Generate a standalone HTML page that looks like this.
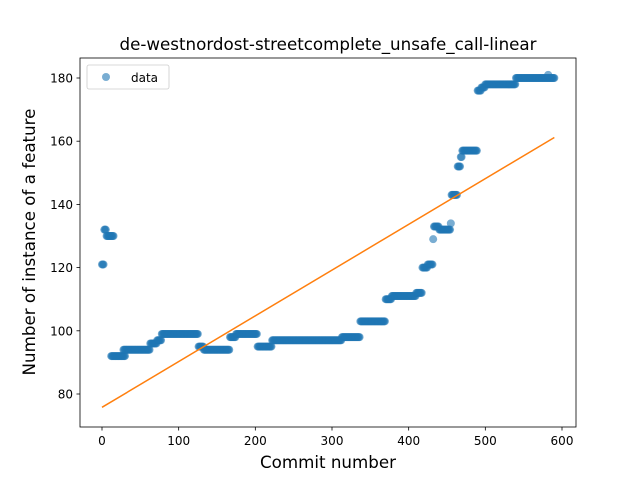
<!DOCTYPE html>
<html><head><meta charset="utf-8"><style>
body{margin:0;background:#fff;}
svg text{font-family:"DejaVu Sans","Liberation Sans",sans-serif;fill:#000;}
</style></head><body>
<svg id="chart" width="640" height="480" xmlns="http://www.w3.org/2000/svg">
<rect width="640" height="480" fill="#fff"/>
<g id="points"></g>
<g id="fit"></g>
<rect x="80" y="58" width="496" height="369" fill="none" stroke="#000" stroke-width="0.8"/>
<g id="xticks"></g>
<g id="yticks"></g>
<text x="328" y="50" text-anchor="middle" font-size="16.7">de-westnordost-streetcomplete_unsafe_call-linear</text>
<text x="328" y="468" text-anchor="middle" font-size="16.7">Commit number</text>
<text transform="translate(35,242) rotate(-90)" text-anchor="middle" font-size="16.7">Number of instance of a feature</text>
<g>
<rect x="87" y="65" width="82" height="24" rx="2" fill="#fff" stroke="#ccc" stroke-width="0.8"/>
<circle cx="106" cy="77" r="4" fill="#1f77b4" fill-opacity="0.6"/>
<text x="131" y="82" font-size="12">data</text>
</g>
</svg>
<script>
const runStarts = [0,3,6,12,28,63,72,78,126,133,167,175,203,222,313,337,370,378,410,418,425,432,433,440,455,456,464,468,470,490,495,500,540,582];
const runEnds   = [2,5,15,30,62,71,77,125,132,166,174,202,221,312,336,369,377,409,417,424,431,432,439,454,455,463,467,469,489,494,499,539,590,582];
const runValues = [121,132,130,92,94,96,97,99,95,94,98,99,95,97,98,103,110,111,112,120,121,129,133,132,134,143,152,155,157,176,177,178,180,181];
const xTickValues = [0,100,200,300,400,500,600];
const yTickValues = [80,100,120,140,160,180];

const xs = v => 102 + v*(460/600);
const ys = v => 394 - (v-80)*3.16;
const NS = "http://www.w3.org/2000/svg";
const pts = document.getElementById('points');
const px=[],py=[];
for(let i=0;i<runStarts.length;i++){
  for(let c=runStarts[i];c<=runEnds[i];c++){
    px.push(c);py.push(runValues[i]);
    const el=document.createElementNS(NS,'circle');
    el.setAttribute('cx',xs(c));el.setAttribute('cy',ys(runValues[i]));
    el.setAttribute('r',4);el.setAttribute('fill','#1f77b4');el.setAttribute('fill-opacity','0.6');
    
    
    pts.appendChild(el);
  }
}
const n=px.length;let mx=0,my=0;
for(let i=0;i<n;i++){mx+=px[i];my+=py[i];}mx/=n;my/=n;
let sxy=0,sxx=0;for(let i=0;i<n;i++){sxy+=(px[i]-mx)*(py[i]-my);sxx+=(px[i]-mx)**2;}
const slope=sxy/sxx, icpt=my-slope*mx;
const x0=Math.min(...px),x1=Math.max(...px);
const ln=document.createElementNS(NS,'line');
ln.setAttribute('x1',xs(x0));ln.setAttribute('y1',ys(icpt+slope*x0));
ln.setAttribute('x2',xs(x1));ln.setAttribute('y2',ys(icpt+slope*x1));
ln.setAttribute('stroke','#ff7f0e');ln.setAttribute('stroke-width','1.5');


document.getElementById('fit').appendChild(ln);

const xt=document.getElementById('xticks');
xTickValues.forEach(v=>{
  const t=document.createElementNS(NS,'line');
  t.setAttribute('x1',xs(v));t.setAttribute('x2',xs(v));t.setAttribute('y1',427);t.setAttribute('y2',430.5);
  t.setAttribute('stroke','#000');t.setAttribute('stroke-width','0.8');
  
  
  xt.appendChild(t);
  const l=document.createElementNS(NS,'text');
  l.setAttribute('x',xs(v));l.setAttribute('y',445);l.setAttribute('text-anchor','middle');l.setAttribute('font-size','12');
  l.textContent=v;
  
  
  xt.appendChild(l);
});
const yt=document.getElementById('yticks');
yTickValues.forEach(v=>{
  const t=document.createElementNS(NS,'line');
  t.setAttribute('x1',76.5);t.setAttribute('x2',80);t.setAttribute('y1',ys(v));t.setAttribute('y2',ys(v));
  t.setAttribute('stroke','#000');t.setAttribute('stroke-width','0.8');
  
  
  yt.appendChild(t);
  const l=document.createElementNS(NS,'text');
  l.setAttribute('x',73);l.setAttribute('y',ys(v)+4.5);l.setAttribute('text-anchor','end');l.setAttribute('font-size','12');
  l.textContent=v;
  
  
  yt.appendChild(l);
});
</script>
</body></html>
